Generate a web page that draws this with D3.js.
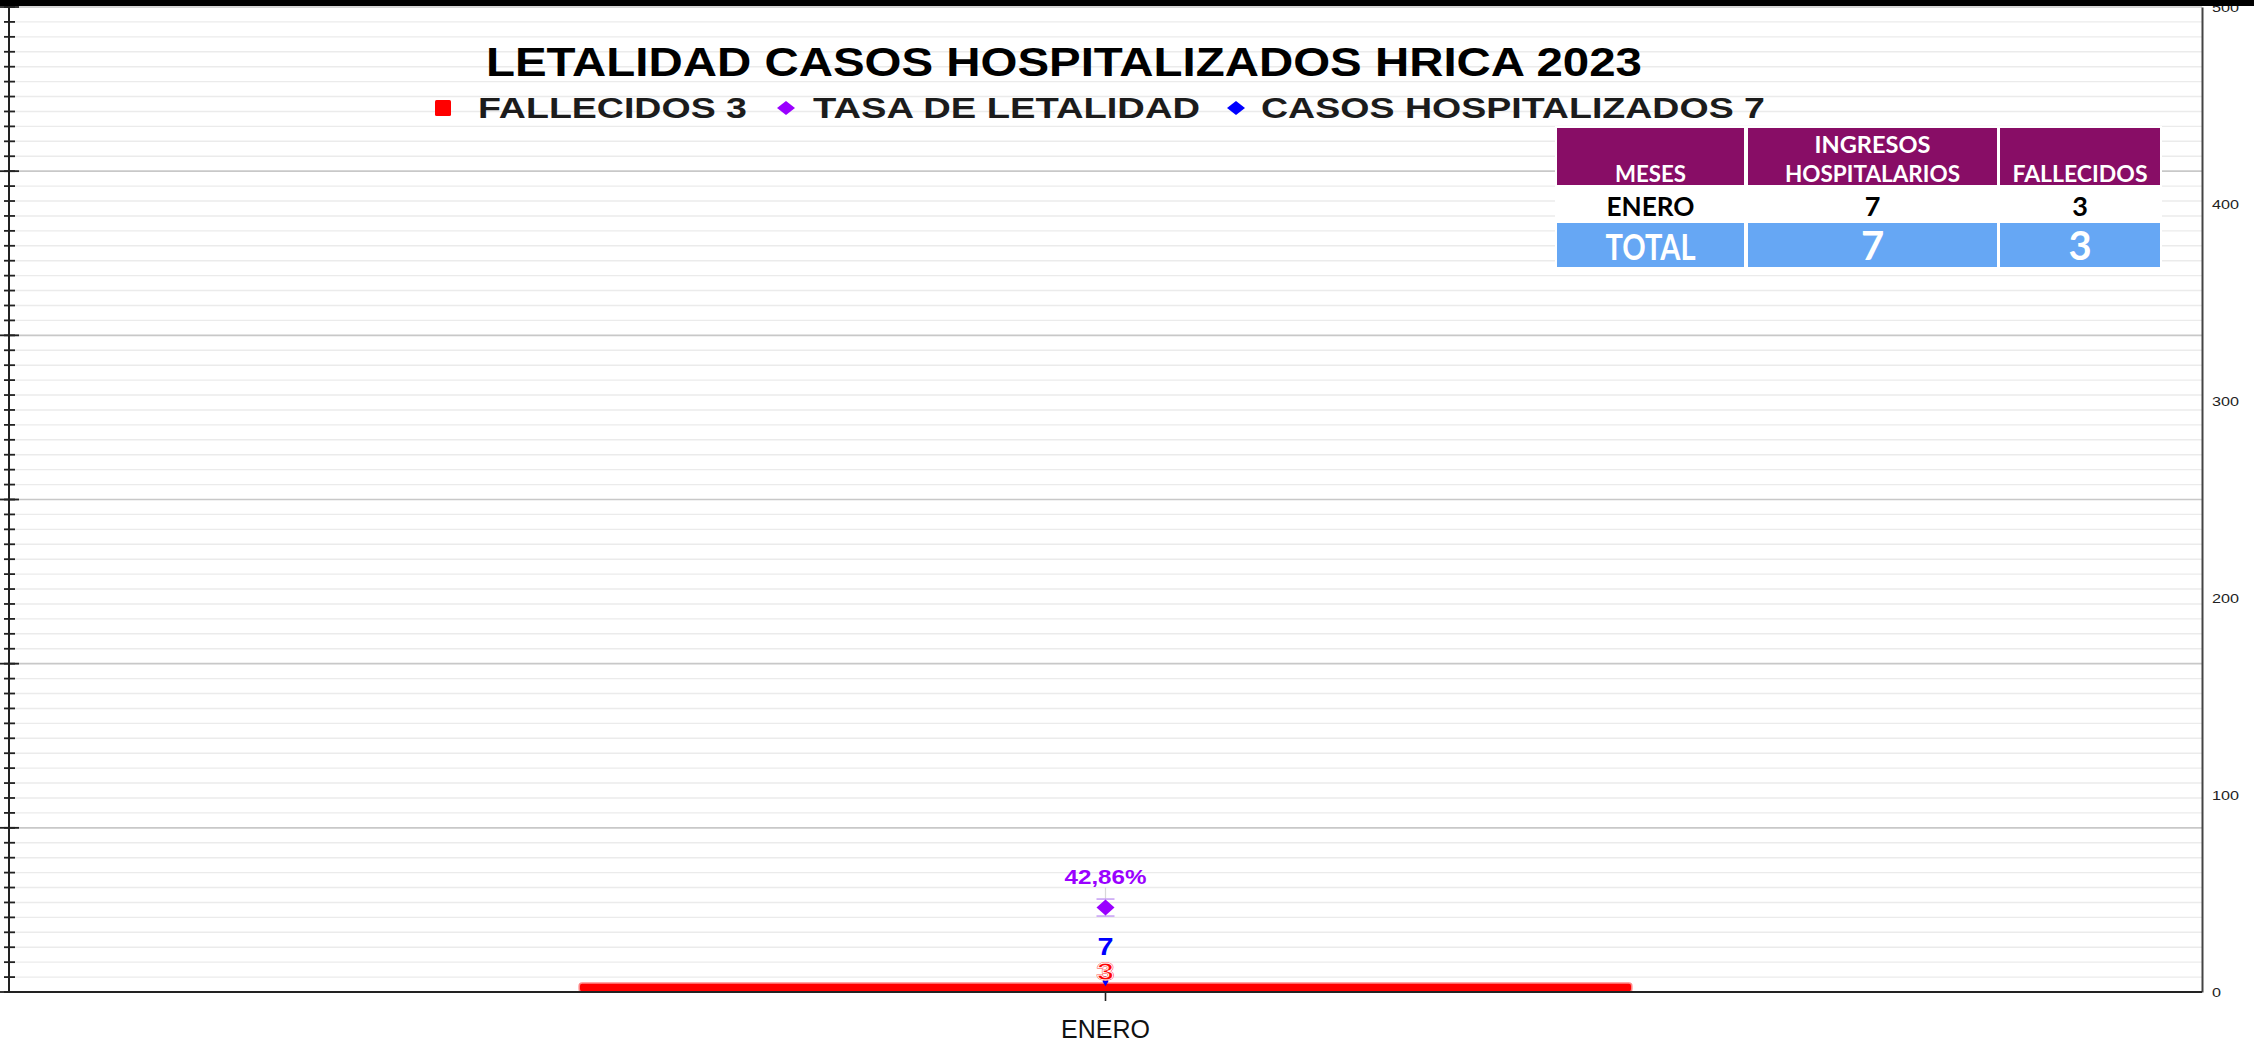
<!DOCTYPE html>
<html>
<head>
<meta charset="utf-8">
<script src="https://cdn.jsdelivr.net/npm/d3@7"></script>
<style>
  html, body { margin: 0; padding: 0; background: #ffffff; overflow: hidden; }
  svg { display: block; }
</style>
</head>
<body>
<svg id="chart" width="2254" height="1043"></svg>
<script>
// ---------- DATA ----------
const categories = ["ENERO"];
const fallecidos = [3];
const casosHospitalizados = [7];
const tasaLetalidad = [42.86];
const rightTickValues = [0, 100, 200, 300, 400, 500];
const leftMajorTicks = [0, 1, 2, 3, 4, 5, 6];
const leftMinorPerMajor = 11;

const titleText = "LETALIDAD CASOS HOSPITALIZADOS HRICA 2023";
const seriesNames = ["FALLECIDOS", "TASA DE LETALIDAD", "CASOS HOSPITALIZADOS"];

const tableHeader = ["MESES", "INGRESOS\nHOSPITALARIOS", "FALLECIDOS"];
const tableMonths = ["ENERO"];
const tableIngresos = [7];
const tableFallecidos = [3];
const tableTotalLabel = "TOTAL";

// ---------- LAYOUT ----------
const svg = d3.select("#chart");
const W = 2254, H = 1043;
const plot = { left: 9, right: 2202, top: 7, bottom: 992 };

const x = d3.scaleBand().domain(categories)
  .range([plot.left, plot.right]).paddingInner(0.52).paddingOuter(0.26);
const yR = d3.scaleLinear().domain([0, 500]).range([plot.bottom, plot.top]);
const yL = d3.scaleLinear().domain([0, 6]).range([plot.bottom, plot.top]);

const minorTicks = d3.range(0, 6 * leftMinorPerMajor + 1).map(i => i / leftMinorPerMajor);

function fit(sel, w) { return sel.attr("textLength", w).attr("lengthAdjust", "spacingAndGlyphs"); }

// gridlines (minor then major)
const grid = svg.append("g");
grid.selectAll("line.minor").data(minorTicks.filter(t => Math.abs(t - Math.round(t)) > 1e-6))
  .join("line").attr("class", "minor")
  .attr("x1", plot.left).attr("x2", plot.right)
  .attr("y1", d => yL(d)).attr("y2", d => yL(d))
  .attr("stroke", "#ebebeb").attr("stroke-width", 1.4);
grid.selectAll("line.major").data(leftMajorTicks.slice(1))
  .join("line").attr("class", "major")
  .attr("x1", plot.left).attr("x2", plot.right)
  .attr("y1", d => yL(d)).attr("y2", d => yL(d))
  .attr("stroke", "#c8c8c8").attr("stroke-width", 1.6);

// left axis (no labels)
const gL = svg.append("g");
gL.selectAll("line.mt").data(minorTicks).join("line")
  .attr("x1", plot.left - 5).attr("x2", plot.left + 6)
  .attr("y1", d => yL(d)).attr("y2", d => yL(d))
  .attr("stroke", "#222").attr("stroke-width", 1.8);
gL.selectAll("line.Mt").data(leftMajorTicks).join("line")
  .attr("x1", plot.left - 9).attr("x2", plot.left + 10)
  .attr("y1", d => yL(d)).attr("y2", d => yL(d))
  .attr("stroke", "#222").attr("stroke-width", 1.8);
gL.append("line").attr("x1", plot.left).attr("x2", plot.left)
  .attr("y1", plot.top).attr("y2", plot.bottom).attr("stroke", "#222").attr("stroke-width", 2);

// right axis
const gR = svg.append("g").attr("transform", `translate(${plot.right},0)`)
  .call(d3.axisRight(yR).tickValues(rightTickValues).tickSize(0).tickPadding(10));
gR.select(".domain").attr("stroke", "#444").attr("stroke-width", 2);
gR.selectAll("text").attr("font-family", "Liberation Sans, Arial, sans-serif")
  .attr("font-size", 13).attr("fill", "#222")
  .each(function(d) { d3.select(this).attr("textLength", String(d).length * 9).attr("lengthAdjust", "spacingAndGlyphs"); });

// bars (fallecidos)
svg.append("g").selectAll("rect").data(categories).join("rect")
  .attr("x", d => x(d)).attr("width", x.bandwidth())
  .attr("y", (d, i) => yR(fallecidos[i]) - 3)
  .attr("height", (d, i) => plot.bottom - yR(fallecidos[i]) + 3)
  .attr("rx", 3).attr("fill", "#ff0000")
  .attr("stroke", "#ff8a8a").attr("stroke-width", 1.5);

// x axis
svg.append("line").attr("x1", plot.left).attr("x2", plot.right)
  .attr("y1", plot.bottom).attr("y2", plot.bottom).attr("stroke", "#222").attr("stroke-width", 2);
const gX = svg.append("g").attr("transform", `translate(0,${plot.bottom})`)
  .call(d3.axisBottom(x).tickSize(9).tickPadding(20));
gX.select(".domain").remove();
gX.selectAll(".tick line").attr("stroke", "#222").attr("stroke-width", 1.6);
gX.selectAll("text").attr("font-family", "Liberation Sans, Arial, sans-serif")
  .attr("font-size", 25).attr("fill", "#111").attr("y", 46).attr("dy", 0);

const cx = d => x(d) + x.bandwidth() / 2;

// casos hospitalizados marker (small blue diamond)
svg.append("g").selectAll("path").data(categories).join("path")
  .attr("transform", (d, i) => `translate(${cx(d)},${yR(casosHospitalizados[i]) + 3})`)
  .attr("d", d3.symbol(d3.symbolDiamond, 30)).attr("fill", "#0000ff");

// tasa de letalidad: error-bar-like caps + diamond
const tasaG = svg.append("g");
categories.forEach((c, i) => {
  const yy = yR(tasaLetalidad[i]);
  tasaG.append("line").attr("x1", cx(c)).attr("x2", cx(c)).attr("y1", yy - 20).attr("y2", yy + 9)
    .attr("stroke", "#d8d8d8").attr("stroke-width", 1.2);
  [-8.5, 8.5].forEach(o => tasaG.append("line")
    .attr("x1", cx(c) - 9).attr("x2", cx(c) + 9).attr("y1", yy + o).attr("y2", yy + o)
    .attr("stroke", "#c9a3f5").attr("stroke-width", 1.6));
  tasaG.append("path").attr("transform", `translate(${cx(c)},${yy})`)
    .attr("d", "M0,-8 L9,0 L0,8 L-9,0 Z").attr("fill", "#9a00ff");
});

// data labels
const lab = svg.append("g").attr("font-family", "Liberation Sans, Arial, sans-serif")
  .attr("font-weight", "bold").attr("text-anchor", "middle");
categories.forEach((c, i) => {
  fit(lab.append("text").attr("x", cx(c)).attr("y", yR(tasaLetalidad[i]) - 24)
    .attr("font-size", 20).attr("fill", "#9a00ff")
    .text(tasaLetalidad[i].toFixed(2).replace(".", ",") + "%"), 82);
  fit(lab.append("text").attr("x", cx(c)).attr("y", yR(casosHospitalizados[i]) - 23)
    .attr("font-size", 24).attr("fill", "#0000ff").text(casosHospitalizados[i]), 16);
  fit(lab.append("text").attr("x", cx(c)).attr("y", yR(fallecidos[i]) - 6)
    .attr("font-size", 23).attr("fill", "#ff0000").attr("stroke", "#ff3333").attr("stroke-width", 1.5)
    .text(fallecidos[i]), 17);
  fit(lab.append("text").attr("x", cx(c)).attr("y", yR(fallecidos[i]) - 6)
    .attr("font-size", 23).attr("fill", "none").attr("stroke", "#ffffff").attr("stroke-width", 0.8)
    .text(fallecidos[i]), 17);
});

// title
fit(svg.append("text").attr("x", 486).attr("y", 76)
  .attr("font-family", "Liberation Sans, Arial, sans-serif").attr("font-weight", "bold")
  .attr("font-size", 40).attr("fill", "#000").text(titleText), 1156);

// legend
const totalF = d3.sum(fallecidos), totalC = d3.sum(casosHospitalizados);
const legendItems = [
  { label: `${seriesNames[0]} ${totalF}`, x: 478, w: 269, color: "#ff0000", shape: "square", mx: 443 },
  { label: `${seriesNames[1]}`, x: 813, w: 387, color: "#9a00ff", shape: "diamond", mx: 786 },
  { label: `${seriesNames[2]} ${totalC}`, x: 1261, w: 504, color: "#0000ff", shape: "diamond", mx: 1236 }
];
const lg = svg.append("g");
legendItems.forEach(it => {
  if (it.shape === "square") {
    lg.append("rect").attr("x", it.mx - 8).attr("y", 100).attr("width", 16).attr("height", 16)
      .attr("rx", 1.5).attr("fill", it.color);
  } else {
    lg.append("path").attr("transform", `translate(${it.mx},108)`)
      .attr("d", "M0,-7 L9,0 L0,7 L-9,0 Z").attr("fill", it.color);
  }
  fit(lg.append("text").attr("x", it.x).attr("y", 118)
    .attr("font-family", "Liberation Sans, Arial, sans-serif").attr("font-weight", "bold")
    .attr("font-size", 29).attr("fill", "#1c1c1c").text(it.label), it.w);
});

// table
const cols = [[1557, 1744], [1748, 1997], [2000, 2160]];
const rows = { head: [128, 185], body: [187, 221], total: [223, 267] };
const tg = svg.append("g").attr("font-family", "Lato, 'Open Sans', sans-serif").attr("font-weight", "bold")
  .attr("text-anchor", "middle");
tg.append("rect").attr("x", 1555).attr("y", 126).attr("width", 607).attr("height", 143).attr("fill", "#fff");
cols.forEach(c => {
  tg.append("rect").attr("x", c[0]).attr("y", rows.head[0]).attr("width", c[1] - c[0])
    .attr("height", rows.head[1] - rows.head[0]).attr("fill", "#880d66");
  tg.append("rect").attr("x", c[0]).attr("y", rows.total[0]).attr("width", c[1] - c[0])
    .attr("height", rows.total[1] - rows.total[0]).attr("fill", "#66a7f4");
});
const colC = cols.map(c => (c[0] + c[1]) / 2);
const headW = [[71], [116, 175], [135]];
tableHeader.forEach((h, i) => {
  const lines = h.split("\n");
  lines.forEach((ln, j) => {
    const yb = 182 - (lines.length - 1 - j) * 29;
    fit(tg.append("text").attr("x", colC[i]).attr("y", yb).attr("font-size", 22).attr("fill", "#fff").text(ln), headW[i][j]);
  });
});
tableMonths.forEach((m, r) => {
  fit(tg.append("text").attr("x", colC[0]).attr("y", 216).attr("font-size", 27).attr("fill", "#000").text(m), 88);
  tg.append("text").attr("x", colC[1]).attr("y", 216).attr("font-size", 27).attr("fill", "#000").text(tableIngresos[r]);
  tg.append("text").attr("x", colC[2]).attr("y", 216).attr("font-size", 27).attr("fill", "#000").text(tableFallecidos[r]);
});
fit(tg.append("text").attr("x", colC[0]).attr("y", 260).attr("font-size", 36).attr("fill", "#fff").text(tableTotalLabel), 90);
tg.append("text").attr("x", colC[1]).attr("y", 260).attr("font-size", 40).attr("fill", "#fff").text(d3.sum(tableIngresos));
tg.append("text").attr("x", colC[2]).attr("y", 260).attr("font-size", 40).attr("fill", "#fff").text(d3.sum(tableFallecidos));

// top black band
svg.append("rect").attr("x", 0).attr("y", 0).attr("width", W).attr("height", 6).attr("fill", "#000");
</script>
</body>
</html>
